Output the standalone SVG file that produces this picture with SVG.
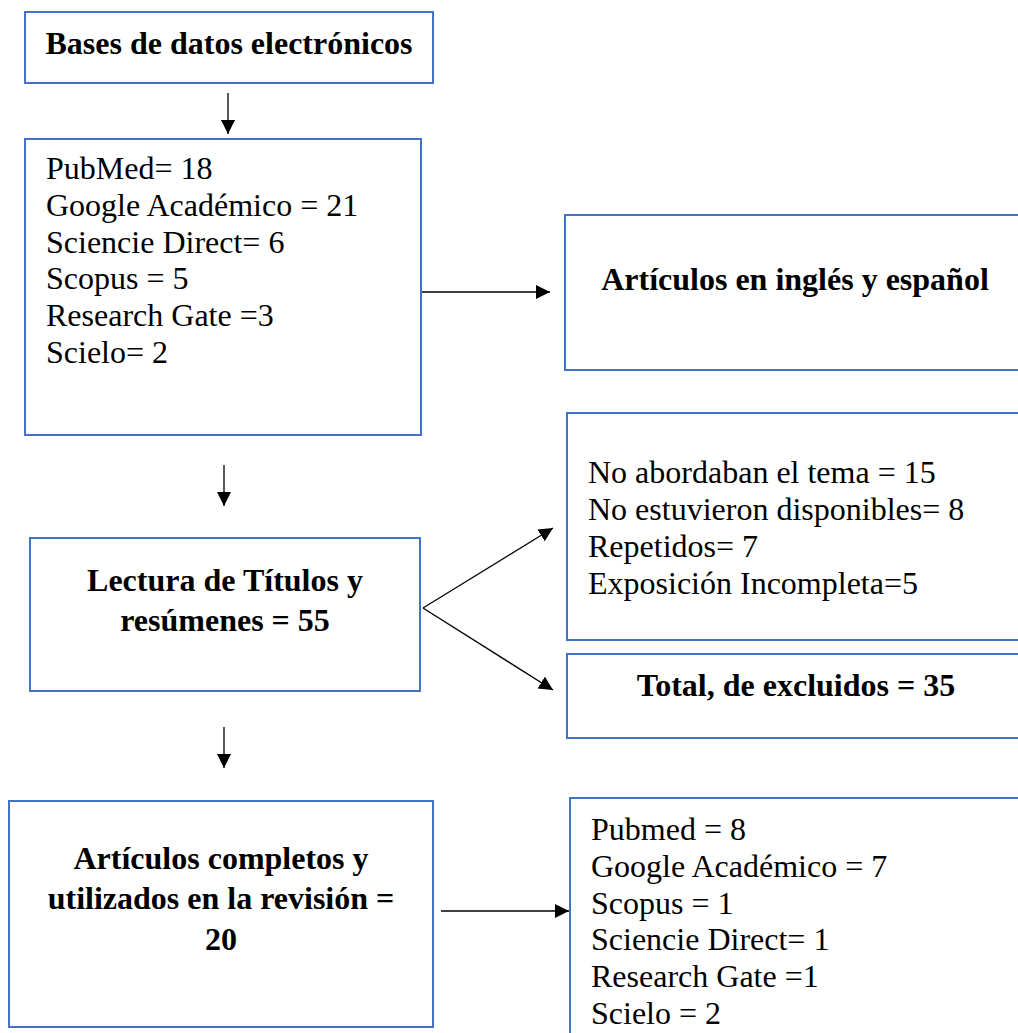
<svg xmlns="http://www.w3.org/2000/svg" width="1018" height="1033" viewBox="0 0 1018 1033">
<style>
.box{fill:#fff;stroke:#4472C4;stroke-width:2}
.t{font-family:"Liberation Serif","Times New Roman",serif;font-size:32px;fill:#000}
.b{font-weight:bold;text-anchor:middle}
.c{stroke:#000;stroke-width:1.3;fill:none;marker-end:url(#ah)}
</style>
<defs>
<marker id="ah" markerUnits="userSpaceOnUse" markerWidth="15" markerHeight="15" refX="14" refY="7" orient="auto">
<path d="M0,0 L14,7 L0,14 z" fill="#000"/>
</marker>
</defs>
<rect width="1018" height="1033" fill="#fff"/>
<g id="connectors">
<line class="c" x1="228" y1="93" x2="228" y2="134"/>
<line class="c" x1="422" y1="292" x2="550" y2="292"/>
<line class="c" x1="224" y1="465" x2="224" y2="506"/>
<line class="c" x1="423" y1="608" x2="553" y2="528"/>
<line class="c" x1="423" y1="608" x2="553" y2="690"/>
<line class="c" x1="224" y1="727" x2="224" y2="768"/>
<line class="c" x1="441" y1="911" x2="569" y2="911"/>
</g>
<g id="n1">
<rect class="box" x="25" y="12" width="408" height="71"/>
<text class="t b" x="229" y="54">Bases de datos electrónicos</text>
</g>
<g id="n2">
<rect class="box" x="25" y="139" width="396" height="296"/>
<text class="t" x="46" y="179">PubMed= 18</text>
<text class="t" x="46" y="216">Google Académico = 21</text>
<text class="t" x="46" y="253">Sciencie Direct= 6</text>
<text class="t" x="46" y="289">Scopus = 5</text>
<text class="t" x="46" y="326">Research Gate =3</text>
<text class="t" x="46" y="363">Scielo= 2</text>
</g>
<g id="n3">
<rect class="box" x="565" y="215" width="460" height="155"/>
<text class="t b" x="795" y="290">Artículos en inglés y español</text>
</g>
<g id="n4">
<rect class="box" x="30" y="538" width="390" height="153"/>
<text class="t b" x="225" y="591">Lectura de Títulos y</text>
<text class="t b" x="225" y="631">resúmenes = 55</text>
</g>
<g id="n5">
<rect class="box" x="567" y="413" width="460" height="227"/>
<text class="t" x="588" y="483">No abordaban el tema = 15</text>
<text class="t" x="588" y="520">No estuvieron disponibles= 8</text>
<text class="t" x="588" y="557">Repetidos= 7</text>
<text class="t" x="588" y="594">Exposición Incompleta=5</text>
</g>
<g id="n6">
<rect class="box" x="567" y="654" width="460" height="84"/>
<text class="t b" x="796" y="696">Total, de excluidos = 35</text>
</g>
<g id="n7">
<rect class="box" x="9" y="801" width="424" height="226"/>
<text class="t b" x="221" y="869">Artículos completos y</text>
<text class="t b" x="221" y="909">utilizados en la revisión =</text>
<text class="t b" x="221" y="950">20</text>
</g>
<g id="n8">
<rect class="box" x="570" y="798" width="460" height="250"/>
<text class="t" x="591" y="840">Pubmed = 8</text>
<text class="t" x="591" y="877">Google Académico = 7</text>
<text class="t" x="591" y="914">Scopus = 1</text>
<text class="t" x="591" y="950">Sciencie Direct= 1</text>
<text class="t" x="591" y="987">Research Gate =1</text>
<text class="t" x="591" y="1024">Scielo = 2</text>
</g>
</svg>
